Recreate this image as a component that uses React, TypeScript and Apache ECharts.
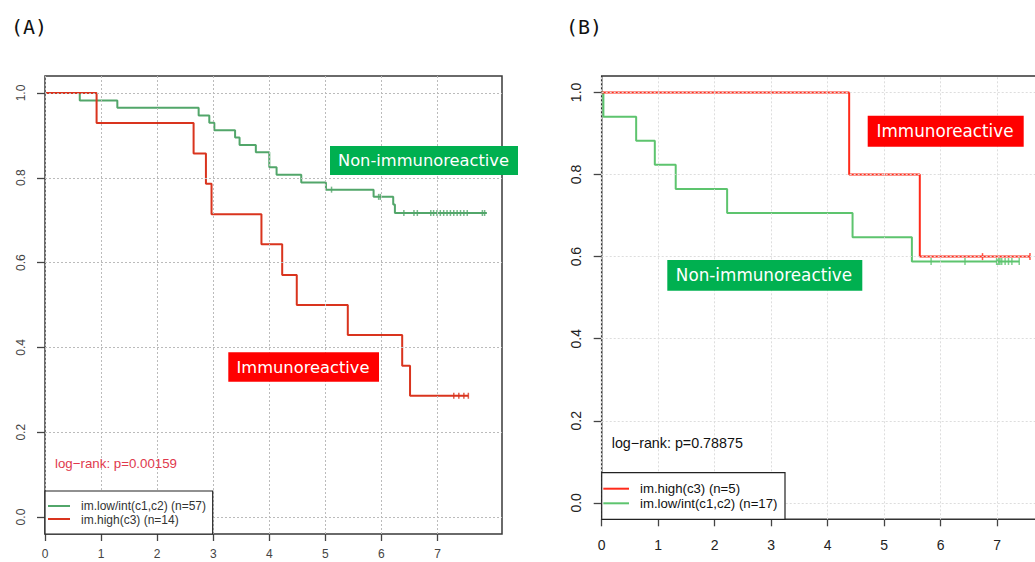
import React, { useEffect, useRef } from "react";
import * as echarts from "echarts";

// ---- tick labels ----
const xTicks = [0, 1, 2, 3, 4, 5, 6, 7];
const yTicks = [0, 0.2, 0.4, 0.6, 0.8, 1.0];

// ---- Panel A : im.low/int(c1,c2) (n=57) ----
const aLowTimes = [0, 0.62, 1.29, 2.74, 2.93, 3.02, 3.39, 3.47, 3.76, 4.0, 4.13, 4.57, 5.01, 5.86, 6.21, 6.24, 7.88];
const aLowSurv = [1, 0.982, 0.965, 0.947, 0.93, 0.912, 0.895, 0.877, 0.86, 0.825, 0.807, 0.789, 0.772, 0.755, 0.737, 0.717, 0.717];
const aLowCensor = [5.11, 5.95, 5.98, 6.4, 6.58, 6.64, 6.88, 6.93, 6.99, 7.05, 7.11, 7.17, 7.23, 7.29, 7.35, 7.41, 7.47, 7.53, 7.8, 7.84];

// ---- Panel A : im.high(c3) (n=14) ----
const aHighTimes = [0, 0.92, 2.65, 2.87, 2.97, 3.86, 4.23, 4.49, 5.4, 6.37, 6.51, 7.55];
const aHighSurv = [1, 0.929, 0.857, 0.786, 0.714, 0.643, 0.571, 0.5, 0.429, 0.357, 0.286, 0.286];
const aHighCensor = [7.29, 7.38, 7.47, 7.55];

// ---- Panel B : im.high(c3) (n=5) ----
const bHighTimes = [0, 4.38, 5.63, 7.58];
const bHighSurv = [1, 0.8, 0.6, 0.6];
const bHighCensor = [6.74, 7.58];

// ---- Panel B : im.low/int(c1,c2) (n=17) ----
const bLowTimes = [0, 0.03, 0.61, 0.94, 1.31, 2.22, 4.44, 5.49, 7.39];
const bLowSurv = [1, 0.941, 0.882, 0.824, 0.765, 0.706, 0.647, 0.588, 0.588];
const bLowCensor = [5.83, 6.43, 6.99, 7.01, 7.03, 7.05, 7.08, 7.14, 7.2, 7.26, 7.39];

const aLegend = ["im.low/int(c1,c2) (n=57)", "im.high(c3) (n=14)"];
const bLegend = ["im.high(c3) (n=5)", "im.low/int(c1,c2) (n=17)"];
const aPText = "log\u2212rank: p=0.00159";
const bPText = "log\u2212rank: p=0.78875";

const C = {
  aGreen: "#52a66a",
  aRed: "#d9341e",
  bGreen: "#5dc46e",
  bRed: "#ff2a1a",
  boxGreen: "#00b050",
  boxRed: "#ff0000",
};

function curve(times: number[], surv: number[]) {
  return times.map((t, i) => [t, surv[i]]);
}
function levelAt(times: number[], surv: number[], t: number) {
  let s = surv[0];
  for (let i = 0; i < times.length; i++) if (times[i] <= t) s = surv[i];
  return s;
}
function censor(times: number[], surv: number[], cs: number[]) {
  return cs.map((t) => [t, levelAt(times, surv, t)]);
}

function App() {
  const ref = useRef<HTMLDivElement>(null);
  useEffect(() => {
    const chart = echarts.init(ref.current!, null, { renderer: "svg" });
    const font = "Liberation Sans";
    const mkX = (idx: number, max: number, fs: number, col: string, margin: number) => ({
      type: "value",
      gridIndex: idx,
      min: 0,
      max,
      axisLine: { show: false, onZero: false },
      axisTick: { show: true, length: 7, customValues: xTicks, lineStyle: { color: "#444", width: 1.3 } },
      axisLabel: {
        customValues: xTicks,
        margin,
        fontSize: fs,
        fontFamily: font,
        color: col,
        formatter: (v: number) => String(v),
      },
      splitLine: { show: false },
    });
    const mkY = (idx: number, fs: number, col: string, margin: number) => ({
      type: "value",
      gridIndex: idx,
      min: -0.04,
      max: 1.04,
      axisLine: { show: false, onZero: false },
      axisTick: { show: true, length: 8, customValues: yTicks, lineStyle: { color: "#444", width: 1.3 } },
      axisLabel: {
        customValues: yTicks,
        rotate: 90,
        margin,
        fontSize: fs,
        fontFamily: font,
        color: col,
        formatter: (v: number) => v.toFixed(1),
      },
      splitLine: { show: false },
    });
    const gridLines = (idx: number, color: string) => ({
      type: "line",
      xAxisIndex: idx,
      yAxisIndex: idx,
      data: [],
      z: 1,
      markLine: {
        silent: true,
        symbol: ["none", "none"],
        label: { show: false },
        animation: false,
        lineStyle: { type: [2, 2], color, width: 1 },
        data: [...xTicks.map((v) => ({ xAxis: v })), ...yTicks.map((v) => ({ yAxis: v }))],
      },
    });
    const step = (idx: number, times: number[], surv: number[], color: string) => ({
      type: "line",
      xAxisIndex: idx,
      yAxisIndex: idx,
      step: "end",
      showSymbol: false,
      symbol: "none",
      z: 3,
      lineStyle: { color, width: 2 },
      data: curve(times, surv),
    });
    const marks = (idx: number, times: number[], surv: number[], cs: number[], color: string, h: number) => ({
      type: "scatter",
      xAxisIndex: idx,
      yAxisIndex: idx,
      symbol: "rect",
      symbolSize: [1.5, h],
      z: 4,
      itemStyle: { color },
      data: censor(times, surv, cs),
    });
    const txt = (x: number, y: number, text: string, fs: number, fill: string, family: string, align = "left") => ({
      type: "text",
      x,
      y,
      z: 100,
      style: {
        text,
        fill,
        fontSize: fs,
        fontFamily: family,
        align,
        verticalAlign: "middle",
        textAlign: align,
        textVerticalAlign: "middle",
      },
    });
    const rect = (x: number, y: number, w: number, h: number, fill: string, stroke?: string, lw = 1) => ({
      type: "rect",
      z: 99,
      shape: { x, y, width: w, height: h },
      style: { fill, stroke: stroke || "none", lineWidth: lw },
    });
    const seg = (x1: number, y1: number, x2: number, y2: number, stroke: string, lw: number) => ({
      type: "line",
      z: 100,
      shape: { x1, y1, x2, y2 },
      style: { stroke, lineWidth: lw },
    });
    const labelFont = "DejaVu Sans";

    chart.setOption({
      animation: false,
      backgroundColor: "#ffffff",
      grid: [
        { left: 45, top: 76, width: 457, height: 458, show: true, borderColor: "#3a3a3a", borderWidth: 1.5, backgroundColor: "transparent", outerBoundsMode: "none", containLabel: false },
        { left: 601.7, top: 76, width: 452, height: 443.3, show: true, borderColor: "#333", borderWidth: 1.5, backgroundColor: "transparent", outerBoundsMode: "none", containLabel: false },
      ],
      xAxis: [mkX(0, 8.15, 12, "#444", 14), mkX(1, 8, 14, "#222", 19)],
      yAxis: [mkY(0, 12, "#444", 18), mkY(1, 14, "#222", 19)],
      series: [
        gridLines(0, "#bbbbbb"),
        gridLines(1, "#dddddd"),
        step(0, aLowTimes, aLowSurv, C.aGreen),
        step(0, aHighTimes, aHighSurv, C.aRed),
        marks(0, aLowTimes, aLowSurv, aLowCensor, C.aGreen, 6),
        marks(0, aHighTimes, aHighSurv, aHighCensor, C.aRed, 6),
        step(1, bLowTimes, bLowSurv, C.bGreen),
        step(1, bHighTimes, bHighSurv, C.bRed),
        marks(1, bLowTimes, bLowSurv, bLowCensor, C.bGreen, 7),
        marks(1, bHighTimes, bHighSurv, bHighCensor, C.bRed, 7),
      ],
      graphic: [
        txt(11, 27, "(A)", 20, "#111", "DejaVu Sans Mono"),
        txt(566, 27, "(B)", 20, "#111", "DejaVu Sans Mono"),
        // panel A labels
        rect(330, 146, 188, 29, C.boxGreen),
        txt(423.5, 160.5, "Non-immunoreactive", 16.3, "#ffffff", labelFont, "center"),
        rect(228.3, 352.3, 150.7, 29.4, C.boxRed),
        txt(303, 367, "Immunoreactive", 16.3, "#ffffff", labelFont, "center"),
        txt(55, 463.3, aPText, 13.3, "#e0394d", font),
        // panel A legend
        rect(45, 491, 167.7, 43, "#ffffff", "#222", 1.2),
        seg(48, 506, 70, 506, C.aGreen, 2),
        seg(48, 519, 70, 519, C.aRed, 2),
        txt(81, 506, aLegend[0], 12, "#333", font),
        txt(81, 519.5, aLegend[1], 12, "#333", font),
        // panel B labels
        rect(867.7, 115.7, 156, 31, C.boxRed),
        txt(945, 131.2, "Immunoreactive", 16.8, "#ffffff", labelFont, "center"),
        rect(667.3, 260, 195, 30.7, C.boxGreen),
        txt(764, 275.3, "Non-immunoreactive", 16.8, "#ffffff", labelFont, "center"),
        txt(611.7, 443.3, bPText, 14.3, "#111", font),
        // panel B legend
        rect(601.7, 472.7, 183.3, 46.6, "#ffffff", "#222", 1.2),
        seg(603.3, 488.7, 629, 488.7, C.bRed, 2),
        seg(603.3, 503.3, 629, 503.3, C.bGreen, 2),
        txt(640, 488.7, bLegend[0], 13.2, "#111", font),
        txt(640, 503.3, bLegend[1], 13.2, "#111", font),
      ],
    });
    return () => chart.dispose();
  }, []);
  return (
    <div
      ref={ref}
      style={{ position: "absolute", left: 0, top: 0, width: 1035, height: 562, background: "#fff" }}
    />
  );
}

export default App;
